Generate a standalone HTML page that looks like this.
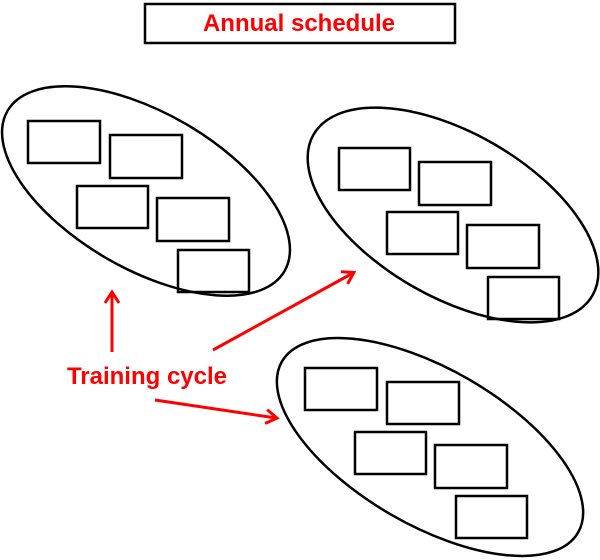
<!DOCTYPE html>
<html><head><style>html,body{margin:0;padding:0;background:#fff;overflow:hidden}svg{display:block}</style></head><body>
<svg width="600" height="560" viewBox="0 0 600 560" xmlns="http://www.w3.org/2000/svg">
<defs><marker id="ah" markerWidth="16" markerHeight="16" refX="12" refY="8" orient="auto" markerUnits="userSpaceOnUse"><path d="M2,1 L13,8 L2,15" fill="none" stroke="#f00" stroke-width="3"/></marker></defs>
<rect x="145" y="4" width="310" height="39" fill="#fff" stroke="#000" stroke-width="2.5"/>
<text x="299" y="31" text-anchor="middle" font-family="Liberation Sans, sans-serif" font-weight="bold" font-size="24" fill="#f00">Annual schedule</text>
<g fill="none" stroke="#000" stroke-width="2.5">
<ellipse cx="0" cy="0" rx="160" ry="78" transform="translate(146,191) rotate(30)"/>
<ellipse cx="0" cy="0" rx="161" ry="82" transform="translate(453,215) rotate(30)"/>
<ellipse cx="0" cy="0" rx="171" ry="78" transform="translate(430,447) rotate(30)"/>
<rect x="28" y="121" width="72" height="42"/><rect x="110" y="135" width="72" height="43"/><rect x="77" y="186" width="71" height="42"/><rect x="157" y="198" width="72" height="43"/><rect x="178" y="250" width="71" height="42"/>
<rect x="339" y="148" width="71" height="42"/><rect x="419" y="162" width="72" height="43"/><rect x="387" y="212" width="71" height="42"/><rect x="467" y="225" width="72" height="43"/><rect x="488" y="277" width="71" height="42"/>
<rect x="305" y="368" width="72" height="42"/><rect x="387" y="382" width="72" height="42"/><rect x="355" y="432" width="71" height="42"/><rect x="435" y="445" width="72" height="43"/><rect x="456" y="496" width="71" height="42"/>
</g>
<g stroke="#f00" stroke-width="3" fill="none">
<line x1="112" y1="352" x2="112" y2="293" marker-end="url(#ah)"/>
<line x1="213" y1="350" x2="353" y2="273" marker-end="url(#ah)"/>
<line x1="155" y1="400" x2="276" y2="418" marker-end="url(#ah)"/>
</g>
<text x="147" y="384" text-anchor="middle" font-family="Liberation Sans, sans-serif" font-weight="bold" font-size="24" fill="#f00">Training cycle</text>
</svg>
</body></html>
